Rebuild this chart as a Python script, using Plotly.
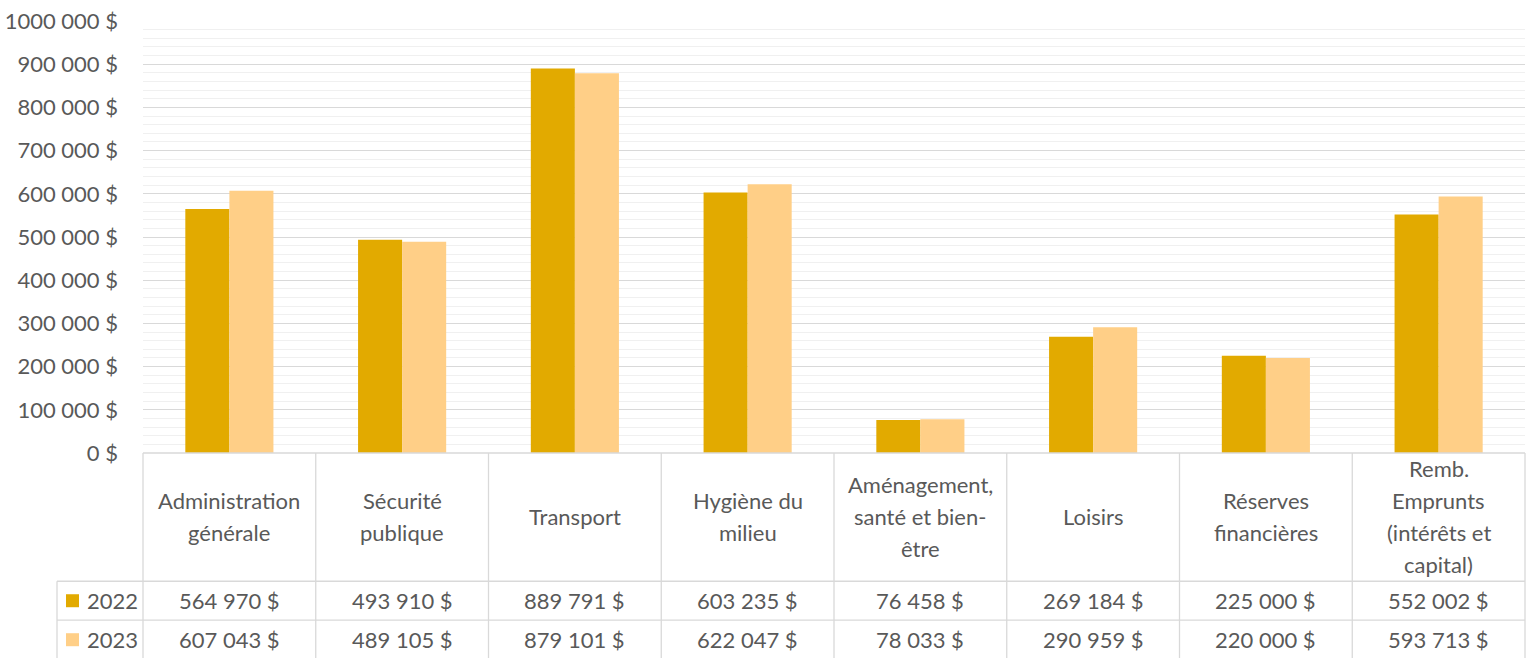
import plotly.graph_objects as go

categories = ["Administration", "Sécurité", "Transport", "Hygiène", "Aménagement", "Loisirs", "Réserves", "Remb"]
category_labels = [
    ["Administration", "générale"],
    ["Sécurité", "publique"],
    ["Transport"],
    ["Hygiène du", "milieu"],
    ["Aménagement,", "santé et bien-", "être"],
    ["Loisirs"],
    ["Réserves", "financières"],
    ["Remb.", "Emprunts", "(intérêts et", "capital)"],
]
series_names = ["2022", "2023"]
values_2022 = [564970, 493910, 889791, 603235, 76458, 269184, 225000, 552002]
values_2023 = [607043, 489105, 879101, 622047, 78033, 290959, 220000, 593713]
tick_values = [0, 100000, 200000, 300000, 400000, 500000, 600000, 700000, 800000, 900000, 1000000]
tick_labels = ["0 $", "100 000 $", "200 000 $", "300 000 $", "400 000 $", "500 000 $",
               "600 000 $", "700 000 $", "800 000 $", "900 000 $", "1000 000 $"]

colors = ["#E2AA00", "#FFCF87"]
text_color = "#595959"
grid_color = "#D9D9D9"
font_family = "Lato"
OFF = 0  # page body margin removed via post_script
W, H = 1535 - OFF, 658 - OFF
M_L, M_R, M_T = 143 - OFF, 10, 20.5 - OFF
Y0_PX = 452.7 - OFF  # figure pixel row of y=0
M_B = H - Y0_PX
PLOT_H = Y0_PX - M_T
PLOT_W = W - M_L - M_R


def py(ypx):
    # ypx in reference image pixels
    return (Y0_PX - (ypx - OFF)) / PLOT_H


def px(xpx):
    return ((xpx - OFF) - M_L) / PLOT_W


def fmt(v):
    return f"{v:,}".replace(",", " ") + " $"


FS = 22
fig = go.Figure()
for name, vals, col in zip(series_names, [values_2022, values_2023], colors):
    fig.add_trace(go.Bar(x=categories, y=vals, name=name, marker=dict(color=col, line=dict(width=0)),
                         showlegend=False))

shapes = []
ann = []
n = len(categories)
line_style = dict(color=grid_color, width=1.3)
row_tops = [452.7, 581, 620]
for i, yline in enumerate(row_tops):
    x0 = 0 if i == 0 else px(57)
    shapes.append(dict(type="line", xref="paper", yref="paper", x0=x0, x1=1, y0=py(yline), y1=py(yline), line=line_style))
for i in range(n + 1):
    shapes.append(dict(type="line", xref="paper", yref="paper", x0=i / n, x1=i / n, y0=0, y1=py(660), line=line_style))
shapes.append(dict(type="line", xref="paper", yref="paper", x0=px(57), x1=px(57), y0=py(581), y1=py(660), line=line_style))

line_gap = 32
center = 516
for cat, lines in zip(categories, category_labels):
    k = len(lines)
    for j, t in enumerate(lines):
        ypx = center + (j - (k - 1) / 2) * line_gap
        ann.append(dict(x=cat, xref="x", y=py(ypx), yref="paper", text=t, showarrow=False,
                        font=dict(size=FS, color=text_color, family=font_family), xanchor="center", yanchor="middle"))

row_centers = [600.5, 639.5]
for name, vals, col, yc in zip(series_names, [values_2022, values_2023], colors, row_centers):
    for cat, v in zip(categories, vals):
        ann.append(dict(x=cat, xref="x", y=py(yc), yref="paper", text=fmt(v), showarrow=False,
                        font=dict(size=FS, color=text_color, family=font_family), xanchor="center", yanchor="middle"))
    shapes.append(dict(type="rect", xref="paper", yref="paper", x0=px(66), x1=px(79), y0=py(yc + 6.5), y1=py(yc - 6.5),
                       fillcolor=col, line=dict(width=0)))
    ann.append(dict(x=px(85), xref="paper", y=py(yc), yref="paper", text=name, showarrow=False,
                    font=dict(size=FS, color=text_color, family=font_family), xanchor="left", yanchor="middle"))

fig.update_layout(
    width=W, height=H,
    margin=dict(l=M_L, r=M_R, t=M_T, b=M_B, pad=0, autoexpand=False),
    paper_bgcolor="white", plot_bgcolor="white",
    barmode="group", bargap=0.49, bargroupgap=0,
    font=dict(family=font_family, color=text_color, size=FS),
    shapes=shapes, annotations=ann,
    xaxis=dict(showticklabels=False, showgrid=False, zeroline=False, showline=False, ticks="",
               range=[-0.5, n - 0.5], automargin=False),
    yaxis=dict(range=[0, 1000000], tickvals=tick_values, ticktext=tick_labels, showgrid=True,
               gridcolor=grid_color, gridwidth=1.3, zeroline=False, showline=False, ticks="",
               ticklabelstandoff=24, ticklabeloverflow="allow", automargin=False,
               tickfont=dict(size=FS, color=text_color, family=font_family),
               minor=dict(dtick=20000, showgrid=True, gridcolor="#F0F0F0", gridwidth=1)),
)

fig.write_html("out.html", config={"displayModeBar": False},
               post_script="document.body.style.margin='0';document.body.style.overflow='hidden';")
